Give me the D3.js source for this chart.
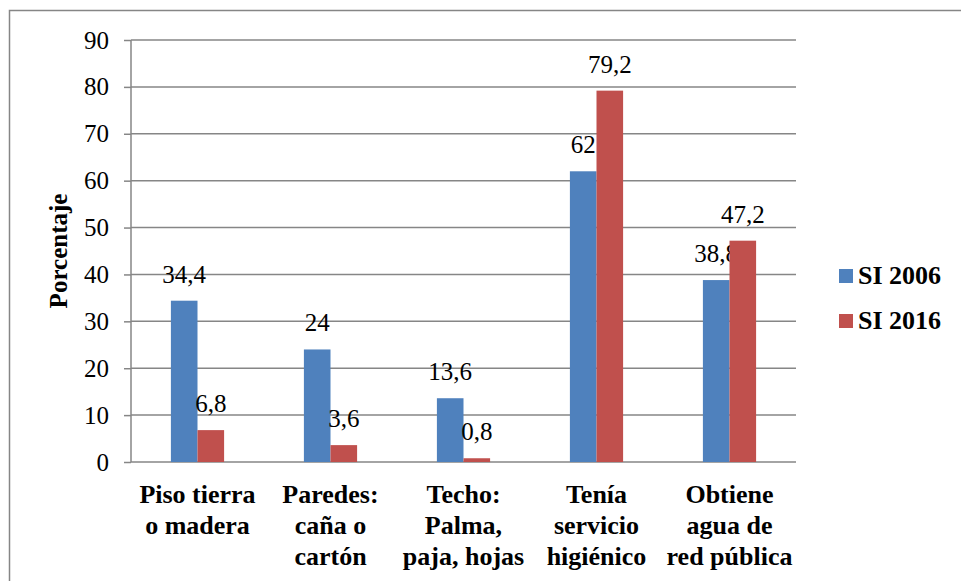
<!DOCTYPE html>
<html lang="es">
<head>
<meta charset="utf-8">
<style type="text/css">
  body { margin: 0; background: white; }
  svg, svg text { font-family: "Liberation Serif", "DejaVu Serif", "Times New Roman", serif; }
  text { fill: #000; }
  .grid line { stroke: #868686; stroke-width: 1.5px; }
  .axis path, .axis line { stroke: #868686; stroke-width: 1.5px; }
  .axis text { font-size: 25px; }
  .cat { font-size: 26px; font-weight: bold; text-anchor: middle; }
  .lbl { font-size: 25px; text-anchor: middle; }
  .legend text { font-size: 26px; font-weight: bold; }
</style>
<script src="https://cdn.jsdelivr.net/npm/d3@7"></script>
</head>
<body>
<div id="chart"></div>
<script>
// data
var categories = [
  ["Piso tierra", "o madera"],
  ["Paredes:", "caña o", "cartón"],
  ["Techo:", "Palma,", "paja, hojas"],
  ["Tenía", "servicio", "higiénico"],
  ["Obtiene", "agua de", "red pública"]
];
var si2006 = [34.4, 24, 13.6, 62, 38.8];
var si2016 = [6.8, 3.6, 0.8, 79.2, 47.2];
var seriesNames = ["SI 2006", "SI 2016"];
var colors = ["#4F81BD", "#C0504D"];
var yTicks = [0, 10, 20, 30, 40, 50, 60, 70, 80, 90];

var width = 961, height = 581;
var plot = {left: 131, right: 796, top: 40, bottom: 462};
var serif = "'Liberation Serif', 'DejaVu Serif', 'Times New Roman', serif";

var svg = d3.select("#chart").append("svg")
    .attr("width", width)
    .attr("height", height)
    .attr("font-family", serif);

// outer frame
svg.append("rect")
    .attr("x", 9.5).attr("y", 10.5)
    .attr("width", width + 20).attr("height", height + 20)
    .attr("fill", "none")
    .attr("stroke", "#868686")
    .attr("stroke-width", 1.5);

var y = d3.scaleLinear().domain([0, 90]).range([plot.bottom, plot.top]);
var x0 = d3.scaleBand().domain(d3.range(categories.length))
    .range([plot.left, plot.right]).paddingInner(0.6).paddingOuter(0.3);
var x1 = d3.scaleBand().domain([0, 1]).range([0, x0.bandwidth()]);

// gridlines
svg.append("g").attr("class", "grid")
  .selectAll("line").data(yTicks.slice(1)).enter().append("line")
    .attr("x1", plot.left).attr("x2", plot.right)
    .attr("y1", function(d) { return y(d); })
    .attr("y2", function(d) { return y(d); });

// y axis
var yAxis = svg.append("g").attr("class", "axis")
    .attr("transform", "translate(" + plot.left + ",0)")
    .call(d3.axisLeft(y).tickValues(yTicks).tickSize(7).tickPadding(15));
yAxis.attr("font-family", serif).attr("font-size", 25);
yAxis.select(".domain").attr("d", "M0," + plot.top + "V" + plot.bottom);

// baseline
svg.append("line")
    .attr("x1", plot.left).attr("x2", plot.right)
    .attr("y1", y(0)).attr("y2", y(0))
    .attr("stroke", "#868686").attr("stroke-width", 1.5);

var fmt = function(v) { return String(v).replace(".", ","); };
var series = [si2006, si2016];

series.forEach(function(vals, s) {
  var g = svg.append("g");
  g.selectAll("rect").data(vals).enter().append("rect")
      .attr("x", function(d, i) { return x0(i) + x1(s); })
      .attr("y", function(d) { return y(d); })
      .attr("width", x1.bandwidth())
      .attr("height", function(d) { return y(0) - y(d); })
      .attr("fill", colors[s]);
  g.selectAll("text").data(vals).enter().append("text")
      .attr("class", "lbl")
      .attr("x", function(d, i) { return x0(i) + x1(s) + x1.bandwidth() / 2; })
      .attr("y", function(d) { return y(d) - 18; })
      .text(fmt);
});

// category labels
var cat = svg.append("g");
categories.forEach(function(lines, i) {
  var t = cat.append("text").attr("class", "cat")
      .attr("x", x0(i) + x0.bandwidth() / 2)
      .attr("y", 503);
  lines.forEach(function(l, k) {
    t.append("tspan")
        .attr("x", x0(i) + x0.bandwidth() / 2)
        .attr("dy", k === 0 ? 0 : 31)
        .text(l);
  });
});

// y axis title
svg.append("text")
    .attr("transform", "translate(67,251) rotate(-90)")
    .attr("text-anchor", "middle")
    .style("font-size", "25px")
    .style("font-weight", "bold")
    .text("Porcentaje");

// legend
var legend = svg.append("g").attr("class", "legend");
seriesNames.forEach(function(n, i) {
  var ly = 283 + i * 45;
  legend.append("rect")
      .attr("x", 839).attr("y", ly - 14)
      .attr("width", 14).attr("height", 14)
      .attr("fill", colors[i]);
  legend.append("text")
      .attr("x", 858).attr("y", ly + 1)
      .text(n);
});
</script>
</body>
</html>
